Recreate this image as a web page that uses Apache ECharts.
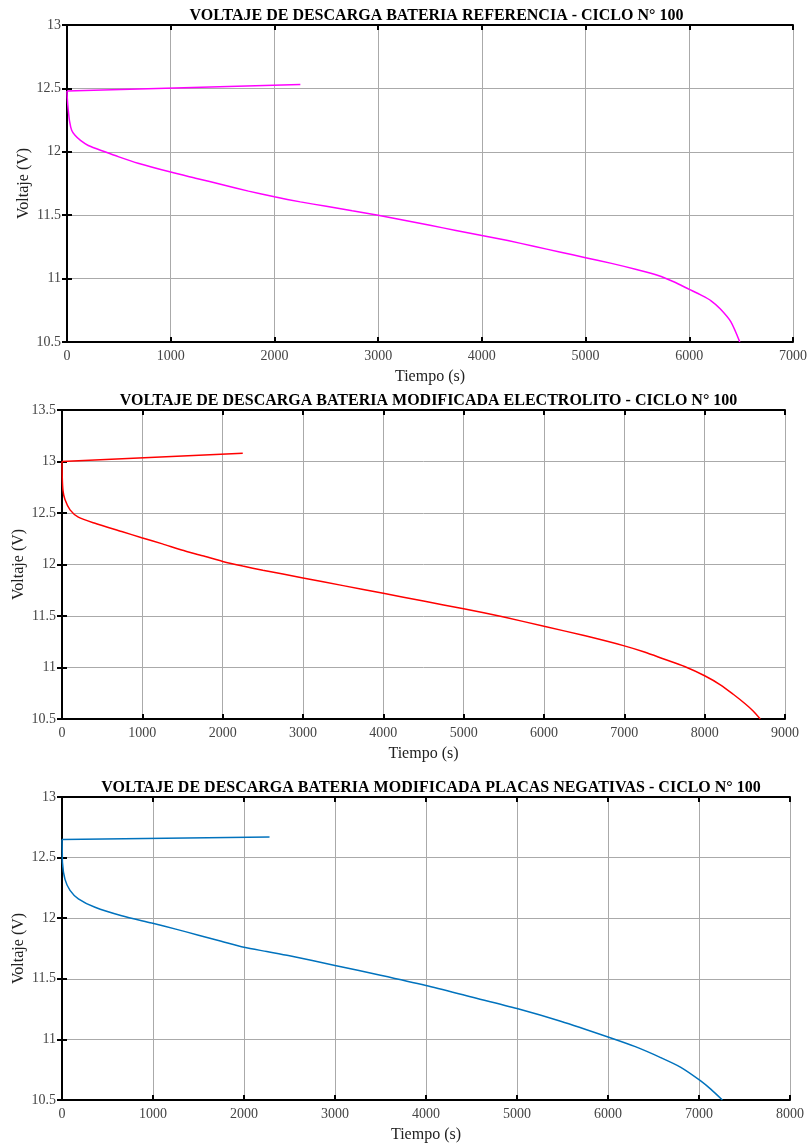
<!DOCTYPE html>
<html>
<head>
<meta charset="utf-8">
<script src="https://cdn.jsdelivr.net/npm/echarts@6/dist/echarts.min.js"></script>
<style>
  html, body { margin: 0; padding: 0; background: #fff; }
  #chart { width: 810px; height: 1144px; }
</style>
</head>
<body>
<div id="chart"></div>
<script>
// --- data ---
const titles = [
  "VOLTAJE DE DESCARGA BATERIA REFERENCIA - CICLO N° 100",
  "VOLTAJE DE DESCARGA BATERIA MODIFICADA ELECTROLITO - CICLO N° 100",
  "VOLTAJE DE DESCARGA BATERIA MODIFICADA PLACAS NEGATIVAS - CICLO N° 100"
];

// short straight segment drawn from t=0 back to ~2250 s
const restTimeRef = [0, 2250];
const restVoltRef = [12.48, 12.53];
const restTimeElec = [0, 2250];
const restVoltElec = [13.00, 13.08];
const restTimeNeg = [0, 2280];
const restVoltNeg = [12.65, 12.67];

// discharge curves
const timeRef = [0, 3, 12, 25, 45, 77, 130, 205, 365, 500, 685, 1000, 1250, 1500, 1750, 2000, 2250, 2500, 2750, 3000, 3250, 3500, 3750, 4000, 4250, 4500, 4750, 5000, 5250, 5500, 5700, 5850, 6000, 6100, 6210, 6300, 6400, 6487];
const voltRef = [12.48, 12.42, 12.33, 12.24, 12.17, 12.13, 12.09, 12.05, 12.00, 11.96, 11.91, 11.84, 11.79, 11.74, 11.69, 11.645, 11.605, 11.57, 11.535, 11.50, 11.46, 11.42, 11.38, 11.34, 11.30, 11.255, 11.21, 11.165, 11.12, 11.07, 11.025, 10.975, 10.915, 10.875, 10.825, 10.76, 10.66, 10.50];

const timeElec = [0, 3, 12, 37, 100, 203, 411, 743, 992, 1250, 1490, 1750, 2000, 2250, 2500, 3000, 3500, 4000, 4500, 5000, 5500, 6000, 6500, 7000, 7250, 7500, 7750, 8000, 8200, 8356, 8500, 8600, 8692];
const voltElec = [13.00, 12.85, 12.72, 12.63, 12.53, 12.46, 12.40, 12.32, 12.26, 12.20, 12.14, 12.085, 12.03, 11.985, 11.945, 11.87, 11.795, 11.72, 11.645, 11.57, 11.49, 11.40, 11.31, 11.21, 11.15, 11.08, 11.01, 10.92, 10.83, 10.74, 10.65, 10.58, 10.50];

const timeNeg = [0, 3, 5, 33, 88, 180, 363, 656, 986, 1250, 1500, 1750, 2000, 2250, 2500, 3000, 3500, 4000, 4500, 5000, 5480, 6000, 6300, 6579, 6800, 7015, 7129, 7257];
const voltNeg = [12.65, 12.55, 12.46, 12.32, 12.23, 12.16, 12.09, 12.02, 11.96, 11.91, 11.86, 11.81, 11.76, 11.725, 11.69, 11.61, 11.53, 11.445, 11.35, 11.255, 11.15, 11.02, 10.94, 10.85, 10.77, 10.66, 10.59, 10.50];

const xMax = [7000, 9000, 8000];
const yMin = [10.5, 10.5, 10.5];
const yMax = [13, 13.5, 13];
const colors = ["#ff00ff", "#ff0000", "#0072bd"];

const grids = [
  { left: 67, top: 25, width: 729, height: 317 },
  { left: 62, top: 410, width: 723, height: 309 },
  { left: 62, top: 797, width: 728, height: 307 }
];

const serif = "Liberation Serif";
const pairs = (t, v) => t.map((x, i) => [x, v[i]]);
const restData = [pairs(restTimeRef, restVoltRef), pairs(restTimeElec, restVoltElec), pairs(restTimeNeg, restVoltNeg)];
const curveData = [pairs(timeRef, voltRef), pairs(timeElec, voltElec), pairs(timeNeg, voltNeg)];

let myChart = echarts.init(document.getElementById("chart"));

let xAxes = [], yAxes = [], series = [], titleList = [];
const frame = { show: true, lineStyle: { color: "#000", width: 2 } };
const tickIn = { show: true, inside: true, length: 5, lineStyle: { color: "#000", width: 2 } };
const gridLine = { show: true, lineStyle: { color: "#aaa", width: 1 } };

grids.forEach((g, i) => {
  titleList.push({
    text: titles[i],
    left: g.left + g.width / 2,
    top: g.top - 22,
    textAlign: "center",
    textStyle: { fontFamily: serif, fontWeight: "bold", fontSize: 16, color: "#000" }
  });
  // bottom axis (labels + grid)
  xAxes.push({
    type: "value", gridIndex: i, min: 0, max: xMax[i], interval: 1000,
    name: "Tiempo (s)", nameLocation: "middle", nameGap: 27, nameMoveOverlap: false,
    nameTextStyle: { fontFamily: serif, fontSize: 16, color: "#222" },
    axisLine: frame, axisTick: tickIn,
    axisLabel: { fontFamily: serif, fontSize: 14, color: "#444", margin: 7, formatter: v => String(v) },
    splitLine: gridLine
  });
  // top axis (frame only)
  xAxes.push({
    type: "value", gridIndex: i, position: "top", min: 0, max: xMax[i], interval: 1000,
    axisLine: frame, axisTick: tickIn, axisLabel: { show: false }, splitLine: { show: false }
  });
  yAxes.push({
    type: "value", gridIndex: i, min: yMin[i], max: yMax[i], interval: 0.5,
    name: "Voltaje (V)", nameLocation: "middle", nameGap: 35, nameMoveOverlap: false,
    nameTextStyle: { fontFamily: serif, fontSize: 16, color: "#222" },
    axisLine: frame, axisTick: tickIn,
    axisLabel: { fontFamily: serif, fontSize: 14, color: "#444", margin: 6 },
    splitLine: gridLine
  });
  yAxes.push({
    type: "value", gridIndex: i, position: "right", min: yMin[i], max: yMax[i], interval: 0.5,
    axisLine: frame, axisTick: tickIn, axisLabel: { show: false }, splitLine: { show: false }
  });
  series.push({
    type: "line", xAxisIndex: i * 2, yAxisIndex: i * 2,
    data: restData[i], showSymbol: false,
    lineStyle: { color: colors[i], width: 1.5 }, itemStyle: { color: colors[i] }
  });
  series.push({
    type: "line", xAxisIndex: i * 2, yAxisIndex: i * 2,
    data: curveData[i], showSymbol: false, smooth: 0.25,
    lineStyle: { color: colors[i], width: 1.5 }, itemStyle: { color: colors[i] }
  });
});

myChart.setOption({
  backgroundColor: "#fff",
  animation: false,
  title: titleList,
  grid: grids,
  xAxis: xAxes,
  yAxis: yAxes,
  series: series
});
</script>
</body>
</html>
